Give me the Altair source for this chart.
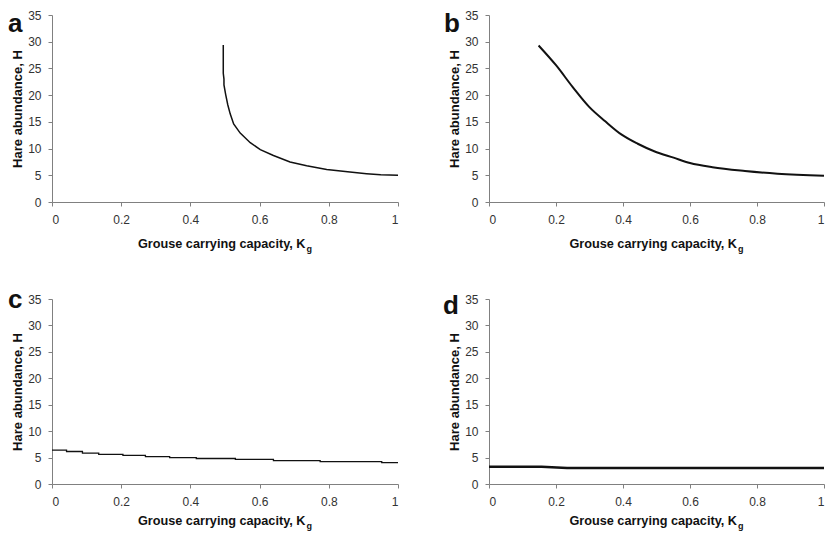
import altair as alt
import pandas as pd

FONT = "Liberation Sans"
X_TICKS = [0, 0.2, 0.4, 0.6, 0.8, 1]
Y_TICKS = [0, 5, 10, 15, 20, 25, 30, 35]
X_TITLE = "Grouse carrying capacity, K"
X_SUB = "g"
Y_TITLE = "Hare abundance, H"

# panel a
a_k = [0.495, 0.495, 0.497, 0.497, 0.502, 0.508, 0.515, 0.525, 0.544, 0.573,
       0.602, 0.640, 0.688, 0.736, 0.794, 0.861, 0.909, 0.950, 1.0]
a_h = [29.4, 24.1, 23.0, 21.9, 20.1, 18.2, 16.5, 14.6, 12.9, 11.1,
       9.8, 8.7, 7.5, 6.8, 6.1, 5.6, 5.3, 5.1, 5.0]
# panel b
b_k = [0.148, 0.200, 0.250, 0.299, 0.347, 0.396, 0.444, 0.493, 0.551, 0.600,
       0.667, 0.764, 0.861, 1.0]
b_h = [29.3, 25.6, 21.5, 17.8, 15.1, 12.6, 10.9, 9.5, 8.3, 7.3,
       6.5, 5.8, 5.3, 4.9]
# panel c (stepped)
c_k = [0.0, 0.042, 0.088, 0.135, 0.205, 0.270, 0.340, 0.417, 0.530, 0.640,
       0.775, 0.953, 1.0]
c_h = [6.4, 6.15, 5.84, 5.6, 5.43, 5.18, 5.0, 4.82, 4.64, 4.41,
       4.23, 4.05, 4.05]
# panel d
d_k = [0.0, 0.157, 0.233, 0.311, 1.0]
d_h = [3.25, 3.25, 3.05, 3.05, 3.05]


def panel(letter, ks, hs, sw, w, h, lx, ly, toff, interp="linear"):
    df = pd.DataFrame({"K": ks, "H": hs})
    line = alt.Chart(df).mark_line(
        color="#111111", strokeWidth=sw, interpolate=interp
    ).encode(
        x=alt.X("K:Q", scale=alt.Scale(domain=[0, 1], nice=False),
                axis=alt.Axis(values=X_TICKS, format="~g", title=None)),
        y=alt.Y("H:Q", scale=alt.Scale(domain=[0, 35], nice=False),
                axis=alt.Axis(values=Y_TICKS, title=Y_TITLE)),
    )
    lab = alt.Chart(pd.DataFrame({"t": [letter]})).mark_text(
        font=FONT, fontSize=26, fontWeight="bold", align="left",
        baseline="alphabetic", color="#111111"
    ).encode(x=alt.value(lx), y=alt.value(ly), text="t:N")
    xt = alt.Chart(pd.DataFrame({"t": [X_TITLE]})).mark_text(
        font=FONT, fontSize=12.7, fontWeight="bold", align="right",
        baseline="alphabetic", color="#111111"
    ).encode(x=alt.value(w / 2 + 80.5), y=alt.value(h + toff), text="t:N")
    xs = alt.Chart(pd.DataFrame({"t": [X_SUB]})).mark_text(
        font=FONT, fontSize=9, fontWeight="bold", align="left",
        baseline="alphabetic", color="#111111"
    ).encode(x=alt.value(w / 2 + 81.5), y=alt.value(h + toff + 4), text="t:N")
    return alt.layer(line, lab, xt, xs).properties(width=w, height=h)


pa = panel("a", a_k, a_h, 1.5, 346, 187, -44, 17, 46)
pb = panel("b", b_k, b_h, 2.0, 335, 187, -45, 17, 46, "monotone")
pc = panel("c", c_k, c_h, 1.3, 346, 185, -44, 9, 41, "step-after")
pd_ = panel("d", d_k, d_h, 2.5, 335, 185, -46, 15, 41)

chart = alt.concat(
    pa, pb, pc, pd_, columns=2,
    spacing={"row": 97, "column": 91}, bounds="flush"
).properties(
    padding={"top": 1, "left": 0, "right": 0, "bottom": 0}
).configure_view(
    stroke=None
).configure_axis(
    grid=False,
    domainColor="#808080",
    tickColor="#808080",
    tickSize=4,
    labelFont=FONT,
    labelFontSize=12,
    labelColor="#333333",
    labelPadding=7,
    titleFont=FONT,
    titleFontSize=13,
    titleFontWeight="bold",
    titleColor="#111111",
    titlePadding=3,
).configure_axisX(
    labelPadding=8
)

chart.save("out.html", embed_options={"renderer": "svg", "actions": False})
